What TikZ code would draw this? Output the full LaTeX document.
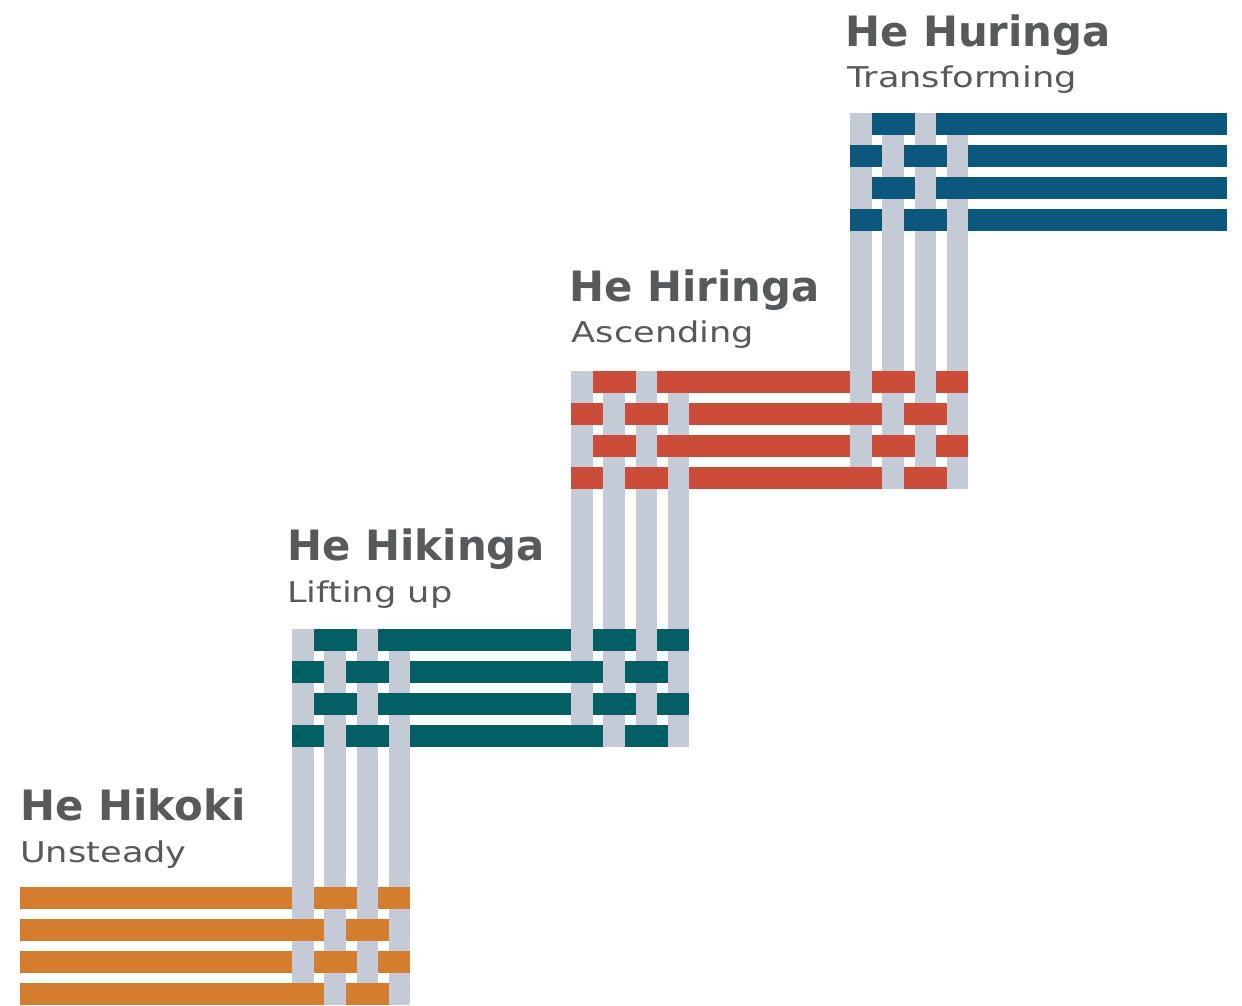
\documentclass[tikz,border=0pt]{standalone}
\usepackage{fontspec}
\setmainfont{DejaVu Sans}
\newfontfamily\subfont{DejaVu Sans}[FakeStretch=1.23]
\definecolor{cOrange}{HTML}{D37D2E}
\definecolor{cTeal}{HTML}{026065}
\definecolor{cRed}{HTML}{CB4C38}
\definecolor{cBlue}{HTML}{0B587C}
\definecolor{cWarp}{HTML}{C5CBD6}
\definecolor{cText}{HTML}{58595B}
\begin{document}
\begin{tikzpicture}[x=1pt,y=-1pt,
  title/.style={anchor=base west, inner sep=0pt, text=cText, font=\fontsize{41.8}{44}\selectfont\bfseries},
  sub/.style={anchor=base west, inner sep=0pt, text=cText, font=\subfont\fontsize{28.6}{30}\selectfont},
  warp/.style={fill=cWarp}]
\useasboundingbox (0,0) rectangle (1242,1005);
\def\rowH{22}\def\rowP{32.1}\def\colW{21.5}\def\colP{32.3}
% weft rows of each block
\foreach \k/\col/\L/\R in {0/cOrange/19.5/410.4, 1/cTeal/292/689.4, 2/cRed/571/968.4, 3/cBlue/850/1227}{
  \pgfmathsetmacro\T{887-258*\k}
  \foreach \r in {0,...,3}{
    \fill[\col] (\L,{\T+\r*\rowP}) rectangle (\R,{\T+\r*\rowP+\rowH});
  }
}
% warp columns
\foreach \j in {1,2,3}{
  \pgfmathsetmacro\X{292+279*(\j-1)}
  \pgfmathsetmacro\Top{887-258*\j}
  \pgfmathsetmacro\Bot{887-258*(\j-1)+3*\rowP+\rowH}
  \foreach \c in {0,...,3}{
    \fill[warp] ({\X+\c*\colP},\Top) rectangle ({\X+\c*\colP+\colW},\Bot);
  }
}
% weft over warp crossings
\foreach \j/\ca/\cb in {1/cTeal/cOrange, 2/cRed/cTeal, 3/cBlue/cRed}{
  \pgfmathsetmacro\X{292+279*(\j-1)}
  \pgfmathsetmacro\Ta{887-258*\j}
  \pgfmathsetmacro\Tb{887-258*(\j-1)}
  \foreach \r in {0,...,3}{
    \foreach \c in {0,...,3}{
      \pgfmathtruncatemacro\odd{mod(\r+\c,2)}
      \ifnum\odd=1
        \fill[\ca] ({\X+\c*\colP},{\Ta+\r*\rowP}) rectangle ({\X+\c*\colP+\colW},{\Ta+\r*\rowP+\rowH});
        \fill[\cb] ({\X+\c*\colP},{\Tb+\r*\rowP}) rectangle ({\X+\c*\colP+\colW},{\Tb+\r*\rowP+\rowH});
      \fi
    }
  }
}
% labels
\node[title] (t4) at (845,46) {He Huringa};
\node[sub] (s4) at (847,87.3) {Transforming};
\node[title] (t3) at (569.5,301) {He Hiringa};
\node[sub] (s3) at (571.5,342.3) {Ascending};
\node[title] (t2) at (287.5,560) {He Hikinga};
\node[sub] (s2) at (287,602) {Lifting up};
\node[title] (t1) at (20.5,820) {He Hikoki};
\node[sub] (s1) at (20,862) {Unsteady};
\end{tikzpicture}
\end{document}
